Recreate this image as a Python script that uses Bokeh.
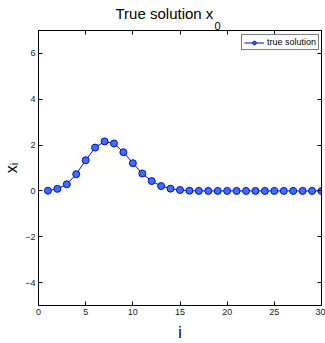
import math
from bokeh.plotting import figure
from bokeh.models import Range1d, LinearAxis, FixedTicker, Label, Legend, LegendItem
from bokeh.embed import file_html
from bokeh.resources import INLINE

# ---- data ----
idx = list(range(1, 31))
x_true = [0.01, 0.09, 0.29, 0.73, 1.34, 1.89, 2.16, 2.07, 1.69, 1.21,
          0.76, 0.43, 0.21, 0.10, 0.04, 0.01, 0.0, 0.0, 0.0, 0.0,
          0.0, 0.0, 0.0, 0.0, 0.0, 0.0, 0.0, 0.0, 0.0, 0.0]
x_ticks = [0, 5, 10, 15, 20, 25, 30]
y_ticks = [-4, -2, 0, 2, 4, 6]
title_main = "True solution x"
title_sub = "0"
xlabel = "i"
ylabel = "x\u1d62"
legend_label = "true solution"

FONT = "Liberation Sans"

p = figure(width=325, height=343, output_backend="svg", toolbar_location=None,
           x_range=Range1d(0, 30), y_range=Range1d(-5, 7),
           min_border_left=32, min_border_right=4, min_border_top=30, min_border_bottom=35,
           x_axis_location=None, y_axis_location=None)
p.title.text = title_main
p.title.align = "left"
p.title.offset = 77
p.title.text_font = FONT
p.title.text_font_size = "15px"
p.title.text_font_style = "normal"
p.title.text_color = "black"
p.title.standoff = 2
p.grid.visible = False
p.outline_line_color = "black"
p.outline_line_width = 1
p.background_fill_color = "white"
p.border_fill_color = "white"

def make_axis(ticks, show_labels, label=None, label_standoff=2):
    ax = LinearAxis(ticker=FixedTicker(ticks=ticks))
    ax.axis_line_color = "black"
    ax.major_tick_line_color = "black"
    ax.major_tick_in = 4
    ax.major_tick_out = 0
    ax.minor_tick_line_color = None
    ax.major_label_text_font = FONT
    if show_labels:
        ax.major_label_text_color = "#222222"
        ax.major_label_text_font_size = "9px"
        ax.major_label_standoff = 3
    else:
        ax.major_label_text_color = None
        ax.major_label_text_font_size = "1px"
        ax.major_label_standoff = 0
    if label is not None:
        ax.axis_label = label
        ax.axis_label_text_font = FONT
        ax.axis_label_text_font_size = "16px"
        ax.axis_label_text_font_style = "normal"
        ax.axis_label_text_color = "black"
        ax.axis_label_standoff = label_standoff
    return ax

p.add_layout(make_axis(x_ticks, True, xlabel, 6), "below")
p.add_layout(make_axis(y_ticks, True, ylabel, 2), "left")
p.add_layout(make_axis(x_ticks, False), "above")
p.add_layout(make_axis(y_ticks, False), "right")

ln = p.line(idx, x_true, line_color="#0000ff", line_width=1)
sc = p.scatter(idx, x_true, size=7, fill_color="#3f6fff", line_color="#0010c0", line_width=1)

legend = Legend(items=[LegendItem(label=legend_label, renderers=[ln, sc])],
                location=(203, 255))
legend.label_text_font = FONT
legend.label_text_font_size = "9px"
legend.label_text_color = "black"
legend.label_height = 9
legend.glyph_height = 9
legend.glyph_width = 20
legend.label_standoff = 3
legend.padding = 2
legend.spacing = 0
legend.margin = 0
legend.border_line_color = "black"
legend.border_line_width = 1
legend.background_fill_color = "white"
p.add_layout(legend, "center")

# title subscript, placed in the top panel in canvas units
p.add_layout(Label(x=214, y=25, x_units="canvas", y_units="canvas", text=title_sub,
                   text_align="left", text_baseline="alphabetic",
                   text_font=FONT, text_font_size="11px", text_color="black"), "above")

open("out.html", "w").write(file_html(p, INLINE))
